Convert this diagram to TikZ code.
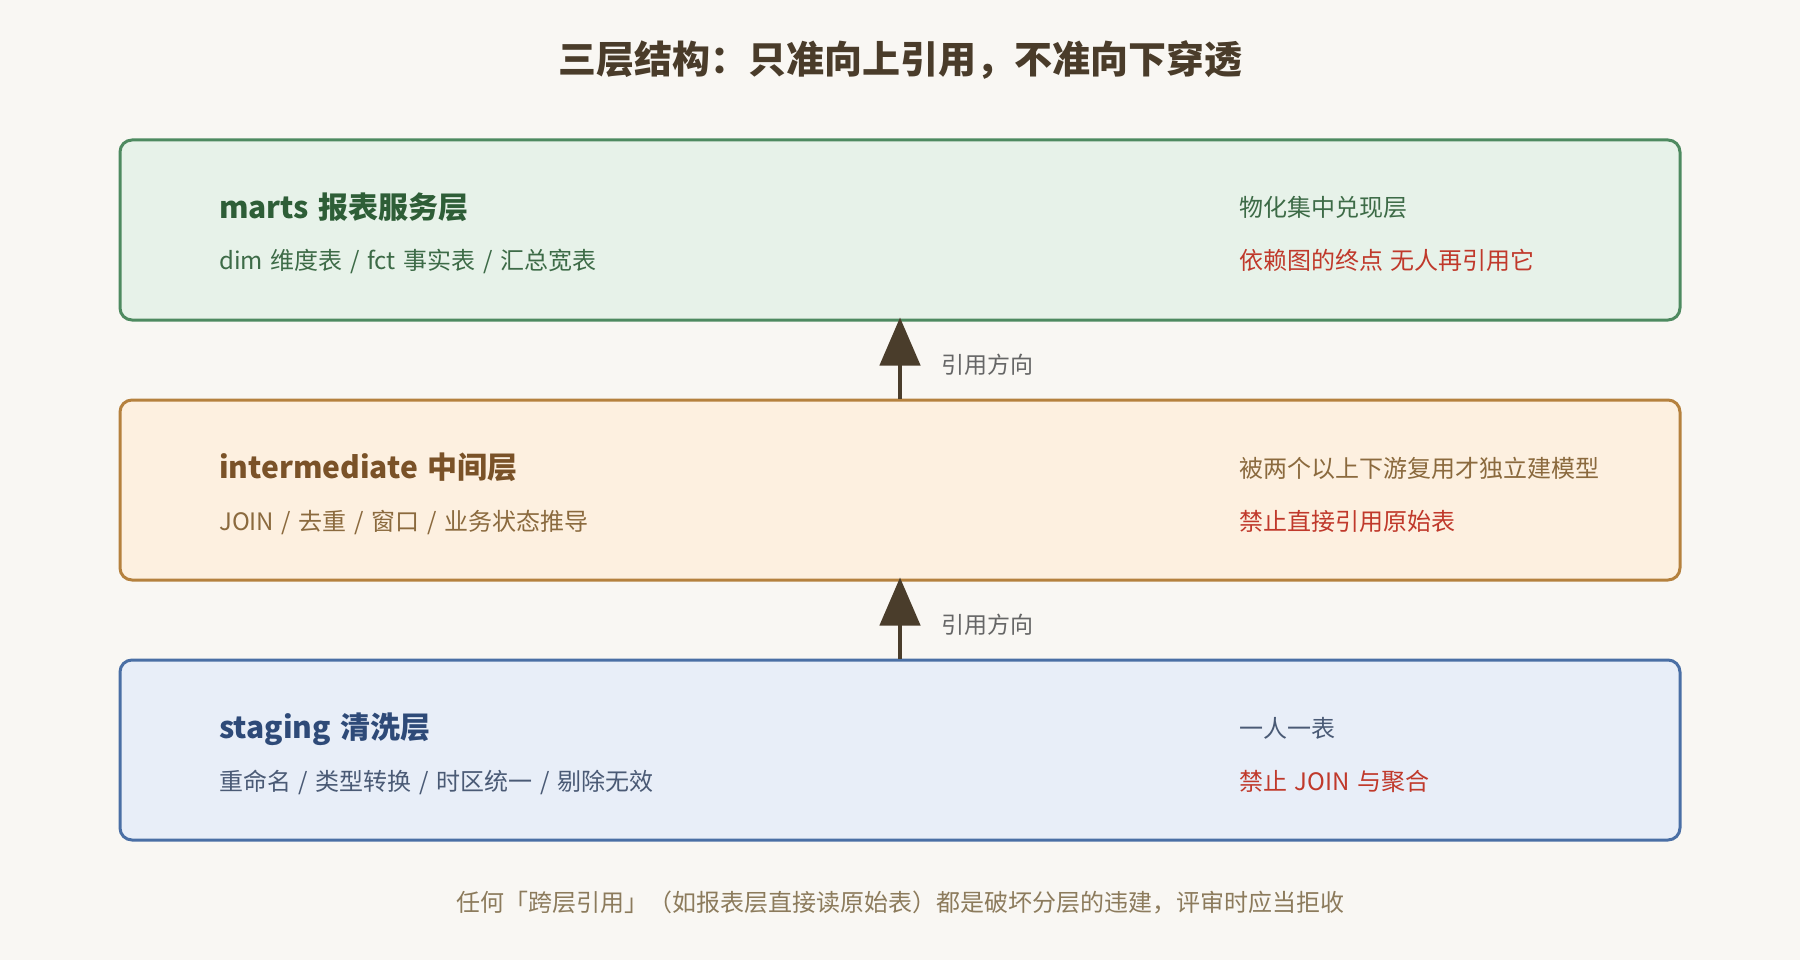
\documentclass[tikz,border=0pt]{standalone}
\usepackage{fontspec}
\setmainfont[WordSpace=1.42]{Noto Sans CJK SC}
\usetikzlibrary{arrows.meta}
\definecolor{bg}{HTML}{F9F7F3}
\definecolor{titlec}{HTML}{4A3C2A}
\definecolor{arrowc}{HTML}{4A3D2B}
\definecolor{labelc}{HTML}{666666}
\definecolor{footc}{HTML}{8C7B5C}
\definecolor{redc}{HTML}{C0392B}
\definecolor{gstroke}{HTML}{4E8A60}
\definecolor{gfill}{HTML}{E7F2E9}
\definecolor{gtitle}{HTML}{2E5E37}
\definecolor{gtext}{HTML}{3D6B47}
\definecolor{ostroke}{HTML}{B5813E}
\definecolor{ofill}{HTML}{FDF0E0}
\definecolor{otitle}{HTML}{7A5228}
\definecolor{otext}{HTML}{8B6A3E}
\definecolor{bstroke}{HTML}{4A6FA5}
\definecolor{bfill}{HTML}{E8EEF8}
\definecolor{btitle}{HTML}{2E4A78}
\definecolor{btext}{HTML}{4A5A75}
\tikzset{
  layer/.style={draw, line width=3pt, rounded corners=12pt, minimum width=1560pt, minimum height=180pt, inner sep=0pt},
  txt/.style={anchor=base west, inner sep=0pt},
  ltitle/.style={txt, font=\fontsize{30}{36}\selectfont\bfseries},
  lsub/.style={txt, font=\fontsize{24}{29}\selectfont},
  refarrow/.style={draw=arrowc, line width=4.5pt, -{Triangle[length=48pt,width=40pt]}, shorten >=-4pt},
  reflabel/.style={txt, text=labelc, font=\fontsize{23}{28}\selectfont},
}
\begin{document}
\begin{tikzpicture}[x=1pt,y=-1pt]
\fill[bg] (0,0) rectangle (1800,960);
\useasboundingbox (0,0) rectangle (1800,960);

\node[anchor=base, inner sep=0pt, text=titlec, font=\fontsize{38}{46}\selectfont\bfseries] (title) at (900,74) {三层结构：只准向上引用，不准向下穿透};

% layers
\node[layer, draw=gstroke, fill=gfill] (marts) at (900,230) {};
\node[layer, draw=ostroke, fill=ofill] (inter) at (900,490) {};
\node[layer, draw=bstroke, fill=bfill] (stag) at (900,750) {};

% marts texts
\node[ltitle, text=gtitle] (m1) at (219,218.5) {marts 报表服务层};
\node[lsub, text=gtext] (m2) at (219,270) {dim 维度表 / fct 事实表 / 汇总宽表};
\node[lsub, text=gtext] (m3) at (1239,217) {物化集中兑现层};
\node[lsub, text=redc] (m4) at (1239,270) {依赖图的终点 无人再引用它};

% intermediate texts
\node[ltitle, text=otitle] (i1) at (219,478.5) {intermediate 中间层};
\node[lsub, text=otext] (i2) at (219,530) {JOIN / 去重 / 窗口 / 业务状态推导};
\node[lsub, text=otext] (i3) at (1239,477) {被两个以上下游复用才独立建模型};
\node[lsub, text=redc] (i4) at (1239,530) {禁止直接引用原始表};

% staging texts
\node[ltitle, text=btitle] (s1) at (219,738.5) {staging 清洗层};
\node[lsub, text=btext] (s2) at (219,790) {重命名 / 类型转换 / 时区统一 / 剔除无效};
\node[lsub, text=btext] (s3) at (1239,737) {一人一表};
\node[lsub, text=redc] (s4) at (1239,790) {禁止 JOIN 与聚合};

% arrows
\draw[refarrow] (inter.north) -- (marts.south);
\draw[refarrow] (stag.north) -- (inter.south);
\node[reflabel] (l1) at (941,373) {引用方向};
\node[reflabel] (l2) at (941,633) {引用方向};

\node[anchor=base, inner sep=0pt, text=footc, font=\fontsize{24}{30}\selectfont] (foot) at (900,911) {任何「跨层引用」（如报表层直接读原始表）都是破坏分层的违建，评审时应当拒收};
\end{tikzpicture}
\end{document}
